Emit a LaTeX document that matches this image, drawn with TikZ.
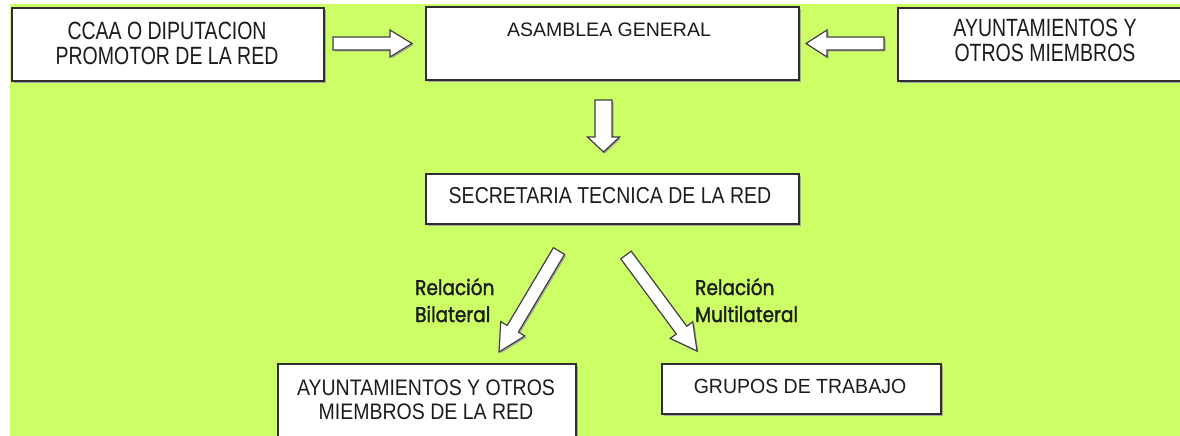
\documentclass[tikz,border=0pt]{standalone}
\usepackage{fontspec}
\usepackage{graphicx}
\setmainfont{Liberation Sans}
\newfontfamily\labfont{Poppins}[FakeBold=1.6]
\usetikzlibrary{calc,shadows}
\definecolor{bg}{HTML}{CCFF66}
\definecolor{edge}{HTML}{2E2E2E}
\definecolor{txtc}{HTML}{1C1C1C}
\tikzset{
  box/.style={draw=edge, line width=2pt, fill=white, inner sep=0pt,
    drop shadow={shadow xshift=2pt, shadow yshift=-2pt, fill=black!35, opacity=1}},
  txt/.style={inner sep=0pt, text=txtc, anchor=base},
  barrow/.style={draw=black!75, line width=1.2pt, fill=white, line join=miter,
    drop shadow={shadow xshift=1.5pt, shadow yshift=-1.5pt, fill=black!35, opacity=1}},
  lab/.style={inner sep=0pt, text=txtc, anchor=base west}
}
% #1 vertical stretch, #2 baselineskip, #3 lines
\newcommand{\stx}[3]{\scalebox{1}[#1]{\fontsize{19.5}{#2}\selectfont\begin{tabular}[t]{@{}c@{}}#3\end{tabular}}}
\newcommand{\ltx}[1]{\scalebox{1}[1.15]{\labfont\fontsize{18.5}{23.5}\selectfont\begin{tabular}[t]{@{}l@{}}#1\end{tabular}}}
% #1 tail, #2 tip, #3 shaft half width, #4 head half width, #5 head length
\newcommand{\blockarrow}[5]{%
  \path ($(#2)!#5!(#1)$) coordinate (hb);
  \draw[barrow] ($(#1)!#3!90:(#2)$) -- ($(hb)!#3!90:(#2)$) -- ($(hb)!#4!90:(#2)$)
    -- (#2) -- ($(hb)!#4!-90:(#2)$) -- ($(hb)!#3!-90:(#2)$) -- ($(#1)!#3!-90:(#2)$) -- cycle;}
\begin{document}
\begin{tikzpicture}[x=1pt,y=-1pt]
\useasboundingbox (0,0) rectangle (1180,436);
\fill[white] (0,0) rectangle (1180,436);
\fill[bg] (10,4) rectangle (1180,436);

% boxes
\node[box, anchor=north west, minimum width=312pt, minimum height=73pt] (ccaa) at (11,7) {};
\node[box, anchor=north west, minimum width=373pt, minimum height=73pt] (asamblea) at (425,6) {};
\node[box, anchor=north west, minimum width=290pt, minimum height=73pt] (ayto) at (897,7) {};
\node[box, anchor=north west, minimum width=373pt, minimum height=50pt] (secre) at (425,173) {};
\node[box, anchor=north west, minimum width=298pt, minimum height=85pt] (aytored) at (277,363) {};
\node[box, anchor=north west, minimum width=279pt, minimum height=50pt] (grupos) at (661,363) {};

% texts
\node[txt] (tccaa) at (167,40) {\stx{1.28}{17.2}{CCAA O DIPUTACION\\PROMOTOR DE LA RED}};
\node[txt] (tasamblea) at (609,37) {\stx{1}{20}{ASAMBLEA GENERAL}};
\node[txt] (tayto) at (1045,37) {\stx{1.28}{19.5}{AYUNTAMIENTOS Y\\OTROS MIEMBROS}};
\node[txt] (tsecre) at (610,203) {\stx{1.18}{20}{SECRETARIA TECNICA DE LA RED}};
\node[txt] (taytored) at (426,395) {\stx{1.15}{21.7}{AYUNTAMIENTOS Y OTROS\\MIEMBROS DE LA RED}};
\node[txt] (tgrupos) at (800,393) {\stx{1.05}{20}{GRUPOS DE TRABAJO}};

% arrow end points
\coordinate (a1t) at (333,43.5);  \coordinate (a1h) at (412,43.5);
\coordinate (a2t) at (884,43.5);  \coordinate (a2h) at (806,43.5);
\coordinate (a3t) at (603.5,100); \coordinate (a3h) at (603.5,152);
\coordinate (a4t) at (559,251);   \coordinate (a4h) at (499,352);
\coordinate (a5t) at (626,255);   \coordinate (a5h) at (697,351);

\blockarrow{a1t}{a1h}{6.5pt}{13.5pt}{22pt}
\blockarrow{a2t}{a2h}{6.5pt}{13.5pt}{21pt}
\blockarrow{a3t}{a3h}{8.5pt}{16pt}{15pt}
\blockarrow{a4t}{a4h}{6.5pt}{14pt}{27pt}
\blockarrow{a5t}{a5h}{6.5pt}{14pt}{26pt}

% labels
\node[lab] (lbil) at (415,295) {\ltx{Relación\\Bilateral}};
\node[lab] (lmul) at (695,295) {\ltx{Relación\\Multilateral}};
\end{tikzpicture}
\end{document}
